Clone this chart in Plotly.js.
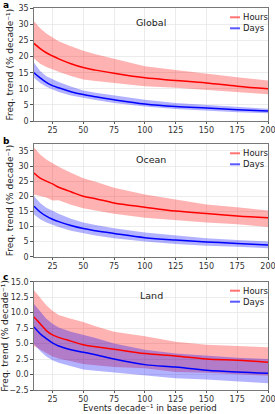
<!DOCTYPE html>
<html><head><meta charset="utf-8">
<script src="https://cdn.plot.ly/plotly-3.0.1.min.js"></script>
<style>html,body{margin:0;padding:0;background:#fff}#c{width:275px;height:414px}</style>
</head><body><div id="c"></div>
<script>
const xs = [10,15,20,25,30,40,50,60,75,100,125,150,175,200];

const globalHoursMean = [24.1,22.5,21.2,20.2,19.3,17.8,16.6,15.8,14.8,13.4,12.6,11.8,10.8,10.0];
const globalHoursUp   = [31.0,28.8,27.2,26.0,24.8,23.2,21.8,20.7,19.4,17.0,15.8,14.6,13.6,12.6];
const globalHoursLo   = [19.4,17.8,16.8,16.0,15.3,14.0,12.9,12.4,11.8,10.8,10.3,9.7,9.0,8.3];
const globalDaysMean  = [15.0,13.4,12.0,11.0,10.3,9.1,8.2,7.5,6.6,5.3,4.5,4.0,3.5,3.1];
const globalDaysUp    = [18.1,15.5,13.9,12.9,12.1,10.7,9.5,8.8,7.9,6.6,5.6,5.0,4.3,3.8];
const globalDaysLo    = [13.4,11.8,10.6,9.7,9.0,7.9,7.1,6.5,5.6,4.5,3.7,3.1,2.7,2.4];

const oceanHoursMean = [27.7,26.0,25.0,24.1,23.0,21.5,20.0,19.2,17.8,16.4,15.1,14.3,13.5,12.9];
const oceanHoursUp   = [36.1,33.8,32.2,31.0,29.8,27.8,26.0,24.8,22.8,20.6,18.9,17.3,16.4,15.3];
const oceanHoursLo   = [20.6,20.2,19.6,18.6,18.7,17.2,16.0,15.3,14.2,12.9,12.0,11.3,10.7,9.8];
const oceanDaysMean  = [16.7,14.8,13.4,12.4,11.6,10.3,9.3,8.6,7.7,6.3,5.5,4.9,4.4,3.9];
const oceanDaysUp    = [20.0,17.8,16.2,15.1,14.2,12.6,11.3,10.5,9.4,8.0,7.1,6.1,5.5,5.0];
const oceanDaysLo    = [14.0,12.4,11.3,10.5,9.8,8.6,7.7,7.0,6.1,5.0,4.2,3.6,3.3,2.8];

const landHoursMean = [9.3,8.2,7.1,6.4,6.0,5.4,4.8,4.5,4.1,3.4,3.0,2.5,2.3,2.0];
const landHoursUp   = [13.6,12.4,11.2,10.3,9.6,9.0,8.5,7.8,6.9,6.2,5.3,4.8,4.6,4.4];
const landHoursLo   = [4.6,4.0,3.4,2.9,2.6,2.1,1.7,1.5,1.2,1.0,0.4,0.3,0.1,-0.2];
const landDaysMean  = [7.7,6.6,5.8,5.1,4.6,4.0,3.6,3.2,2.5,1.6,1.2,0.7,0.4,0.2];
const landDaysUp    = [11.4,10.2,9.0,8.2,7.6,6.9,6.4,5.9,5.0,4.0,3.4,3.0,2.7,2.5];
const landDaysLo    = [4.9,3.8,2.9,2.3,1.9,1.3,0.8,0.6,0.3,-0.2,-0.6,-0.8,-1.1,-1.4];

const panelNames = ['Global','Ocean','Land'];
const panelLetters = ['a','b','c'];
const seriesNames = ['Hours','Days'];
const xTicks = [25,50,75,100,125,150,175,200];

const RED='#ff0000', BLUE='#0000ff';
const REDF='rgba(255,0,0,0.3)', BLUEF='rgba(0,0,255,0.3)';

const panels = [
  {ya:'y',  d:[[globalHoursMean,globalHoursUp,globalHoursLo],[globalDaysMean,globalDaysUp,globalDaysLo]]},
  {ya:'y2', d:[[oceanHoursMean,oceanHoursUp,oceanHoursLo],[oceanDaysMean,oceanDaysUp,oceanDaysLo]]},
  {ya:'y3', d:[[landHoursMean,landHoursUp,landHoursLo],[landDaysMean,landDaysUp,landDaysLo]]}
];
const xaName = ['x','x2','x3'];

const traces=[];
panels.forEach((p,i)=>{
  const cols=[[RED,REDF],[BLUE,BLUEF]];
  p.d.forEach((s,j)=>{
    traces.push({x:xs,y:s[2],xaxis:xaName[i],yaxis:p.ya,mode:'lines',line:{width:0,color:cols[j][1]},showlegend:false,hoverinfo:'skip'});
    traces.push({x:xs,y:s[1],xaxis:xaName[i],yaxis:p.ya,mode:'lines',line:{width:0,color:cols[j][1]},fill:'tonexty',fillcolor:cols[j][1],showlegend:false,hoverinfo:'skip'});
  });
  p.d.forEach((s,j)=>{
    traces.push({x:xs,y:s[0],xaxis:xaName[i],yaxis:p.ya,mode:'lines',line:{width:1.5,color:cols[j][0],shape:'spline'},name:seriesNames[j],showlegend:false});
  });
});

const W=275,H=414,ML=34,MR=7,MT=8,MB=24;
const pw=W-ML-MR, ph=H-MT-MB;
const px=(x)=>(x-ML)/pw;
const py=(y)=>(H-MB-y)/ph;

const axFont={family:'DejaVu Sans',size:8,color:'#333'};
function xax(anchor){return {domain:[0,1],range:[10,200],tickvals:xTicks,anchor:anchor,showline:true,mirror:true,linecolor:'#555',linewidth:0.8,ticks:'outside',ticklen:2,tickcolor:'#555',showgrid:true,gridcolor:'#e4e4e4',gridwidth:0.7,zeroline:false,tickfont:axFont,ticklabeloverflow:'allow',fixedrange:true};}
function yax(anchor,dom,range,dtick,fmt){return {domain:dom,range:range,dtick:dtick,tick0:0,tickformat:fmt,anchor:anchor,showline:true,mirror:true,linecolor:'#555',linewidth:0.8,ticks:'outside',ticklen:3,tickcolor:'#555',showgrid:true,gridcolor:'#e4e4e4',gridwidth:0.7,zeroline:false,tickfont:axFont,ticklabeloverflow:'allow',
  title:{text:'Freq. trend (% decade⁻¹)',font:{family:'DejaVu Sans',size:9,color:'#222'},standoff:3},fixedrange:true};}

const layout={
  width:W,height:H,margin:{l:ML,r:MR,t:MT,b:MB,pad:0},
  paper_bgcolor:'#fff',plot_bgcolor:'#fff',showlegend:false,
  xaxis:xax('y'), xaxis2:xax('y2'), xaxis3:xax('y3'),
  yaxis:yax('x',[py(121),py(8.3)],[0,35],5,'d'),
  yaxis2:yax('x2',[py(256.7),py(144.3)],[0,37.2],5,'d'),
  yaxis3:yax('x3',[0,py(281.7)],[-2.5,15],2.5,'.1f'),
  shapes:[],annotations:[]
};

layout.annotations.push({xref:'paper',yref:'paper',x:px(150),y:py(414),text:'Events decade⁻¹ in base period',showarrow:false,borderpad:0,font:{family:'DejaVu Sans',size:8.5,color:'#222',weight:'normal'},xanchor:'center',yanchor:'bottom'});

const titleY=[22.7,159,295];
const legY=[[17.3,28.3],[153.3,164.3],[290.7,301.7]];
const letterY=[5,141,277];
const legCols=['rgba(255,80,80,0.8)','rgba(60,60,255,0.85)'];
for(let i=0;i<3;i++){
  layout.annotations.push({xref:'paper',yref:'paper',x:px(151),y:py(titleY[i]),text:panelNames[i],showarrow:false,font:{family:'DejaVu Sans',size:9.5,color:'#222',weight:'normal'},xanchor:'center',yanchor:'middle'});
  layout.annotations.push({xref:'paper',yref:'paper',x:px(1),y:py(letterY[i]),text:'<b>'+panelLetters[i]+'</b>',showarrow:false,font:{family:'DejaVu Sans',size:9,color:'#000'},xanchor:'left',yanchor:'middle'});
  for(let j=0;j<2;j++){
    layout.shapes.push({type:'line',xref:'paper',yref:'paper',x0:px(230),x1:px(240),y0:py(legY[i][j]),y1:py(legY[i][j]),line:{color:legCols[j],width:2}});
    layout.annotations.push({xref:'paper',yref:'paper',x:px(240.5),y:py(legY[i][j]),text:seriesNames[j],showarrow:false,font:{family:'DejaVu Sans',size:8.5,color:'#222',weight:'normal'},xanchor:'left',yanchor:'middle'});
  }
}

Plotly.newPlot('c',traces,layout,{displayModeBar:false,staticPlot:true});
</script></body></html>
